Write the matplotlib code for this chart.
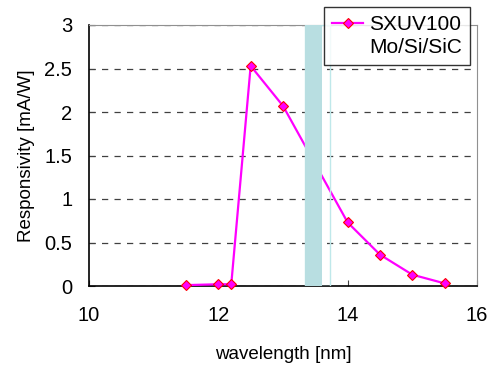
import matplotlib
matplotlib.use("Agg")
import matplotlib.pyplot as plt
from matplotlib.patches import Rectangle
from matplotlib.lines import Line2D

plt.rcParams['font.family'] = ['Liberation Sans', 'DejaVu Sans']

wavelength = [11.5, 12.0, 12.2, 12.5, 13.0, 14.0, 14.5, 15.0, 15.5]
responsivity = [0.01, 0.02, 0.02, 2.53, 2.07, 0.73, 0.36, 0.13, 0.03]
band_fill = (13.34, 13.60)
band_outline = (13.34, 13.73)
xticks = [10, 12, 14, 16]
yticks = [0, 0.5, 1, 1.5, 2, 2.5, 3]
ytick_labels = ['0', '0.5', '1', '1.5', '2', '2.5', '3']
legend_lines = ['SXUV100', 'Mo/Si/SiC']

fig = plt.figure(figsize=(4.92, 3.65), dpi=100)
ax = fig.add_axes([89/492, 1-286/365, (477-89)/492, (286-25)/365])

line, = ax.plot(wavelength, responsivity, color='#FF00FF', lw=1.6, marker='D',
                markersize=5.5, markerfacecolor='#FF00FF', markeredgecolor='#FF0000',
                markeredgewidth=0.8, zorder=3, clip_on=False)

ax.add_patch(Rectangle((band_outline[0], 0), band_outline[1]-band_outline[0], 3,
                       facecolor='none', edgecolor='#BFE8EA', lw=1.0, zorder=4))
ax.add_patch(Rectangle((band_fill[0], 0), band_fill[1]-band_fill[0], 3,
                       facecolor='#B8DEE1', edgecolor='none', zorder=5))

ax.set_xlim(10, 16)
ax.set_ylim(0, 3)
ax.set_xticks(xticks)
ax.set_yticks(yticks)
ax.set_yticklabels(ytick_labels)
ax.tick_params(direction='in', length=4, labelsize=14.5, color='#404040')
ax.tick_params(axis='y', pad=12)
ax.tick_params(axis='x', pad=14.5)
ax.yaxis.grid(True, linestyle=(0, (5, 5)), color='#404040', lw=0.9)
ax.set_axisbelow(True)
for s in ['top', 'right']:
    ax.spines[s].set_color('#909090')
for s in ['left', 'bottom']:
    ax.spines[s].set_color('#000000')
    ax.spines[s].set_linewidth(1.2)

ax.set_xlabel('wavelength [nm]', fontsize=13.5, labelpad=15)
ax.set_ylabel('Responsivity [mA/W]', fontsize=13.5, labelpad=7)

blank = Line2D([], [], linestyle='none', marker=None)
leg = ax.legend([line, blank], legend_lines, loc='upper right',
                bbox_to_anchor=(470/492, 1-7/365),
                bbox_transform=fig.transFigure, fontsize=15, frameon=True,
                fancybox=False, borderaxespad=0, handlelength=1.5,
                handletextpad=0.29, borderpad=0.38, labelspacing=0.2)
leg.get_frame().set_edgecolor('black')
leg.get_frame().set_linewidth(1.0)
leg.set_zorder(10)

fig.savefig('out.png', dpi=100)
